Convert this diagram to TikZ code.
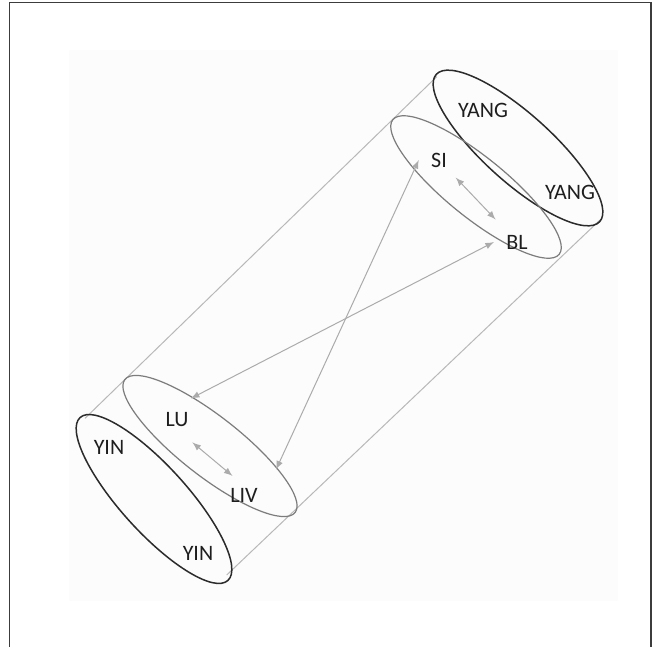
\documentclass[tikz,border=0pt]{standalone}
\usepackage{fontspec}
\setmainfont{Carlito}
\definecolor{ink}{HTML}{1E1E1E}
\definecolor{rimdark}{HTML}{2B2B2B}
\definecolor{rimgray}{HTML}{7C7C7C}
\definecolor{tubegray}{HTML}{B8B8B8}
\definecolor{linkgray}{HTML}{ABABAB}
\definecolor{framegray}{HTML}{3C3C3C}
\begin{document}
\begin{tikzpicture}[x=0.5pt,y=-0.5pt,
        organ/.style={text=ink,font=\fontsize{11}{13}\selectfont,inner sep=1pt},
        outerrim/.style={draw=rimdark,line width=0.75pt},
        innerrim/.style={draw=rimgray,line width=0.6pt},
        tube/.style={draw=tubegray,line width=0.5pt},
        link/.style={<->,>=latex,draw=linkgray,line width=0.5pt}]
            \useasboundingbox (0,0) rectangle (659,647);
            \fill[black!1] (69,50) rectangle (618,601);
            \draw[framegray,line width=0.6pt] (9.5,647) -- (9.5,2.5) -- (651,2.5) -- (651,647);

            \coordinate (Yangc) at (518,148);
            \coordinate (Upc) at (476,187);
            \coordinate (Lowc) at (210,446);
            \coordinate (Yinc) at (154,499);
            \coordinate (Yangtop) at (436.7,76.7);
            \coordinate (Yangbot) at (600,220);
            \coordinate (Yintop) at (85,418.3);
            \coordinate (Yinbot) at (226.7,575);

            \draw[tube] (Yangtop) -- (Yintop);
            \draw[tube] (Yangbot) -- (Yinbot);

            \draw[outerrim,rotate around={-42:(Yangc)}] (Yangc) ellipse [x radius=110,y radius=34];
            \draw[innerrim,rotate around={-39:(Upc)}] (Upc) ellipse [x radius=107,y radius=30];
            \draw[innerrim,rotate around={-38:(Lowc)}] (Lowc) ellipse [x radius=108,y radius=30];
            \draw[outerrim,rotate around={-47.8:(Yinc)}] (Yinc) ellipse [x radius=110,y radius=33];

            \node[organ] (yangA) at (483,110) {YANG};
            \node[organ] (yangB) at (570,192) {YANG};
            \node[organ] (SI) at (439,160) {SI};
            \node[organ] (BL) at (517,242) {BL};
            \node[organ] (LU) at (177,420) {LU};
            \node[organ] (LIV) at (244,495) {LIV};
            \node[organ] (yinA) at (109,447) {YIN};
            \node[organ] (yinB) at (198,553) {YIN};

            \draw[link,shorten <=5.5pt,shorten >=9pt] (SI) -- (BL);
            \draw[link,shorten <=10pt,shorten >=7.5pt] (LU.south) -- (LIV.north);
            \draw[link] ([xshift=-5pt]SI.west) -- ([shift={(8pt,8pt)}]LIV.north east);
            \draw[link] ([xshift=-5pt]BL.west) -- ([yshift=6pt]LU.north east);

\end{tikzpicture}
\end{document}
